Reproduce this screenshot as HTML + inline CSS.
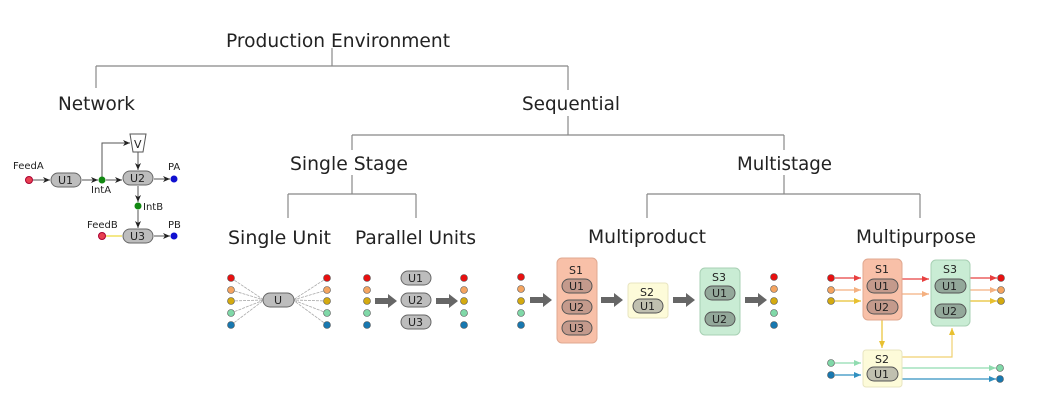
<!DOCTYPE html>
<html><head><meta charset="utf-8"><style>
html,body{margin:0;padding:0;background:#fff;}
svg{display:block;}
text{font-family:"DejaVu Sans","Liberation Sans",sans-serif;fill:#222;}
.t{font-size:19px;}
.s{font-size:10px;}
.u{font-size:11px;}
</style></head><body>
<svg width="1049" height="406" viewBox="0 0 1049 406" xmlns="http://www.w3.org/2000/svg">
<defs>
<marker id="ak" markerWidth="8" markerHeight="8" refX="7" refY="3" orient="auto" markerUnits="userSpaceOnUse"><path d="M0,0 L7,3 L0,6 L2,3z" fill="#222"/></marker>
<marker id="ar" markerWidth="8" markerHeight="8" refX="7" refY="3" orient="auto" markerUnits="userSpaceOnUse"><path d="M0,0 L7,3 L0,6z" fill="#e84040"/></marker>
<marker id="ao" markerWidth="8" markerHeight="8" refX="7" refY="3" orient="auto" markerUnits="userSpaceOnUse"><path d="M0,0 L7,3 L0,6z" fill="#f4b080"/></marker>
<marker id="ay" markerWidth="8" markerHeight="8" refX="7" refY="3" orient="auto" markerUnits="userSpaceOnUse"><path d="M0,0 L7,3 L0,6z" fill="#e8c030"/></marker>
<marker id="ag" markerWidth="8" markerHeight="8" refX="7" refY="3" orient="auto" markerUnits="userSpaceOnUse"><path d="M0,0 L7,3 L0,6z" fill="#90dcb0"/></marker>
<marker id="ab" markerWidth="8" markerHeight="8" refX="7" refY="3" orient="auto" markerUnits="userSpaceOnUse"><path d="M0,0 L7,3 L0,6z" fill="#3090c0"/></marker>
</defs>

<!-- tree -->
<g stroke="#888" stroke-width="1.2" fill="none">
<path d="M332 48V66M96 66H568M96 66V88M568 66V90"/>
<path d="M568 116V135M352 135H784M352 135V150M784 135V150"/>
<path d="M352 175V194M288 194H416M288 194V218M416 194V218"/>
<path d="M784 175V194M647 194H920M647 194V218M920 194V218"/>
</g>
<text class="t" x="226" y="47" textLength="224" lengthAdjust="spacingAndGlyphs">Production Environment</text>
<text class="t" x="58" y="110" textLength="77" lengthAdjust="spacingAndGlyphs">Network</text>
<text class="t" x="522" y="110" textLength="98" lengthAdjust="spacingAndGlyphs">Sequential</text>
<text class="t" x="290" y="170" textLength="118" lengthAdjust="spacingAndGlyphs">Single Stage</text>
<text class="t" x="737" y="170" textLength="95" lengthAdjust="spacingAndGlyphs">Multistage</text>
<text class="t" x="228" y="244" textLength="103" lengthAdjust="spacingAndGlyphs">Single Unit</text>
<text class="t" x="355" y="244" textLength="121" lengthAdjust="spacingAndGlyphs">Parallel Units</text>
<text class="t" x="588" y="243" textLength="118" lengthAdjust="spacingAndGlyphs">Multiproduct</text>
<text class="t" x="856" y="243" textLength="120" lengthAdjust="spacingAndGlyphs">Multipurpose</text>

<!-- network -->
<g stroke="#555" stroke-width="1" fill="none">
<path d="M33 180H50" marker-end="url(#ak)"/>
<path d="M82 180H98" marker-end="url(#ak)"/>
<path d="M106 180H122" marker-end="url(#ak)"/>
<path d="M102 177V143H130" marker-end="url(#ak)"/>
<path d="M138 151V170" marker-end="url(#ak)"/>
<path d="M154 179H170" marker-end="url(#ak)"/>
<path d="M138 186V202" marker-end="url(#ak)"/>
<path d="M138 210V228" marker-end="url(#ak)"/>
<path d="M154 236H170" marker-end="url(#ak)"/>
</g>
<path d="M106 236H122" stroke="#f0e060" stroke-width="1.5"/>
<path d="M130 134H146L143 152H133Z" fill="#fff" stroke="#555"/>
<text class="u" x="134" y="148">V</text>
<g fill="#bdbdbd" stroke="#666">
<rect x="51" y="173" width="30" height="14" rx="7"/>
<rect x="123" y="171" width="30" height="14" rx="7"/>
<rect x="123" y="229" width="30" height="14" rx="7"/>
</g>
<text class="u" x="58" y="184">U1</text><text class="u" x="130" y="182">U2</text><text class="u" x="130" y="240">U3</text>
<circle cx="29" cy="180" r="3.5" fill="#e84050" stroke="#a03"/>
<circle cx="102" cy="180" r="3.5" fill="#118811"/>
<circle cx="174" cy="179" r="3.5" fill="#1010d0"/>
<circle cx="138" cy="206" r="3.5" fill="#118811"/>
<circle cx="102" cy="236" r="3.5" fill="#e84050" stroke="#a03"/>
<circle cx="174" cy="236" r="3.5" fill="#1010d0"/>
<text class="s" x="13" y="169">FeedA</text><text class="s" x="91" y="193">IntA</text>
<text class="s" x="168" y="170">PA</text><text class="s" x="143" y="210">IntB</text>
<text class="s" x="87" y="228">FeedB</text><text class="s" x="168" y="228">PB</text>

<!-- single unit -->
<g stroke="#aaa" stroke-width="0.8" stroke-dasharray="3,1">
<path d="M231 278L264 300M231 290L264 300M231 301L264 300M231 313L264 300M231 325L264 300"/>
<path d="M327 278L293 300M327 290L293 300M327 301L293 300M327 313L293 300M327 325L293 300"/>
</g>
<rect x="263" y="293" width="31" height="14" rx="7" fill="#bdbdbd" stroke="#666"/>
<text class="u" x="274" y="304">U</text>

<g id="dots">
</g>
<!-- dot columns -->
<g stroke-width="0.6" stroke="#555">
<g fill="#e81010"><circle cx="231" cy="278" r="3.5"/><circle cx="327" cy="278" r="3.5"/><circle cx="367" cy="278" r="3.5"/><circle cx="464" cy="278" r="3.5"/><circle cx="521" cy="277" r="3.5"/><circle cx="774" cy="277" r="3.5"/><circle cx="831" cy="278" r="3.5"/><circle cx="1001" cy="278" r="3.5"/></g>
<g fill="#f4a460"><circle cx="231" cy="290" r="3.5"/><circle cx="327" cy="290" r="3.5"/><circle cx="367" cy="290" r="3.5"/><circle cx="464" cy="290" r="3.5"/><circle cx="521" cy="289" r="3.5"/><circle cx="774" cy="289" r="3.5"/><circle cx="831" cy="290" r="3.5"/><circle cx="1001" cy="290" r="3.5"/></g>
<g fill="#d4aa10"><circle cx="231" cy="301" r="3.5"/><circle cx="327" cy="301" r="3.5"/><circle cx="367" cy="301" r="3.5"/><circle cx="464" cy="301" r="3.5"/><circle cx="521" cy="301" r="3.5"/><circle cx="774" cy="301" r="3.5"/><circle cx="831" cy="301" r="3.5"/><circle cx="1001" cy="301" r="3.5"/></g>
<g fill="#80d8a8"><circle cx="231" cy="313" r="3.5"/><circle cx="327" cy="313" r="3.5"/><circle cx="367" cy="313" r="3.5"/><circle cx="464" cy="313" r="3.5"/><circle cx="521" cy="313" r="3.5"/><circle cx="774" cy="313" r="3.5"/><circle cx="831" cy="363" r="3.5"/><circle cx="1000" cy="368" r="3.5"/></g>
<g fill="#1878b0"><circle cx="231" cy="325" r="3.5"/><circle cx="327" cy="325" r="3.5"/><circle cx="367" cy="325" r="3.5"/><circle cx="464" cy="325" r="3.5"/><circle cx="521" cy="325" r="3.5"/><circle cx="774" cy="325" r="3.5"/><circle cx="831" cy="375" r="3.5"/><circle cx="1000" cy="379" r="3.5"/></g>
</g>

<!-- big gray arrows -->
<g fill="#666">
<path d="M375 298H388V294L397 301L388 308V304H375Z"/>
<path d="M436 298H449V294L458 301L449 308V304H436Z"/>
<path d="M530 297H543V293L552 300L543 307V303H530Z"/>
<path d="M601 297H614V293L623 300L614 307V303H601Z"/>
<path d="M673 297H686V293L695 300L686 307V303H673Z"/>
<path d="M745 297H758V293L767 300L758 307V303H745Z"/>
</g>

<!-- parallel units -->
<g fill="#bdbdbd" stroke="#666">
<rect x="401" y="271" width="30" height="14" rx="7"/>
<rect x="401" y="293" width="30" height="14" rx="7"/>
<rect x="401" y="315" width="30" height="14" rx="7"/>
</g>
<text class="u" x="408" y="282">U1</text><text class="u" x="408" y="304">U2</text><text class="u" x="408" y="326">U3</text>

<!-- multiproduct -->
<rect x="557" y="258" width="40" height="85" rx="5" fill="#f8c0a8" stroke="#e0a890"/>
<rect x="628" y="283" width="40" height="35" rx="3" fill="#fdfbd9" stroke="#e8e4c0"/>
<rect x="700" y="268" width="40" height="67" rx="5" fill="#c9ecd4" stroke="#a8d0b4"/>
<text class="u" x="569" y="274">S1</text><text class="u" x="640" y="296">S2</text><text class="u" x="712" y="281">S3</text>
<g stroke="#555">
<rect x="562" y="279" width="30" height="14" rx="7" fill="#c49a8c"/>
<rect x="562" y="300" width="30" height="14" rx="7" fill="#c49a8c"/>
<rect x="562" y="321" width="30" height="14" rx="7" fill="#c49a8c"/>
<rect x="633" y="299" width="30" height="14" rx="7" fill="#c0c0b0"/>
<rect x="705" y="286" width="30" height="14" rx="7" fill="#93a89a"/>
<rect x="705" y="312" width="30" height="14" rx="7" fill="#93a89a"/>
</g>
<text class="u" x="569" y="290">U1</text><text class="u" x="569" y="311">U2</text><text class="u" x="569" y="332">U3</text>
<text class="u" x="640" y="310">U1</text><text class="u" x="712" y="297">U1</text><text class="u" x="712" y="323">U2</text>

<!-- multipurpose -->
<g fill="none" stroke-width="1.2">
<path d="M835 278H861" stroke="#e84040" marker-end="url(#ar)"/>
<path d="M835 290H861" stroke="#f4b080" marker-end="url(#ao)"/>
<path d="M835 301H861" stroke="#e8c030" marker-end="url(#ay)"/>
<path d="M902 279H929" stroke="#e84040" marker-end="url(#ar)"/>
<path d="M902 294H929" stroke="#f4b080" marker-end="url(#ao)"/>
<path d="M970 278H997" stroke="#e84040" marker-end="url(#ar)"/>
<path d="M970 290H997" stroke="#f4b080" marker-end="url(#ao)"/>
<path d="M970 301H997" stroke="#e8c030" marker-end="url(#ay)"/>
<path d="M882 320V348" stroke="#e8c030" marker-end="url(#ay)"/>
<path d="M902 357H952V328" stroke="#f0d070" marker-end="url(#ay)"/>
<path d="M835 363H861" stroke="#90dcb0" marker-end="url(#ag)"/>
<path d="M835 375H861" stroke="#3090c0" marker-end="url(#ab)"/>
<path d="M902 368H996" stroke="#90dcb0" marker-end="url(#ag)"/>
<path d="M902 379H996" stroke="#3090c0" marker-end="url(#ab)"/>
</g>
<rect x="863" y="259" width="39" height="61" rx="5" fill="#f8c0a8" stroke="#e0a890"/>
<rect x="931" y="260" width="39" height="66" rx="5" fill="#c9ecd4" stroke="#a8d0b4"/>
<rect x="863" y="350" width="39" height="37" rx="3" fill="#fdfbd9" stroke="#e8e4c0"/>
<text class="u" x="875" y="273">S1</text><text class="u" x="943" y="273">S3</text><text class="u" x="875" y="363">S2</text>
<g stroke="#555">
<rect x="867" y="279" width="31" height="14" rx="7" fill="#c49a8c"/>
<rect x="867" y="300" width="31" height="14" rx="7" fill="#c49a8c"/>
<rect x="935" y="279" width="31" height="14" rx="7" fill="#93a89a"/>
<rect x="935" y="304" width="31" height="14" rx="7" fill="#93a89a"/>
<rect x="867" y="367" width="31" height="14" rx="7" fill="#c0c0b0"/>
</g>
<text class="u" x="874" y="290">U1</text><text class="u" x="874" y="311">U2</text>
<text class="u" x="942" y="290">U1</text><text class="u" x="942" y="315">U2</text>
<text class="u" x="874" y="378">U1</text>
</svg>
</body></html>
